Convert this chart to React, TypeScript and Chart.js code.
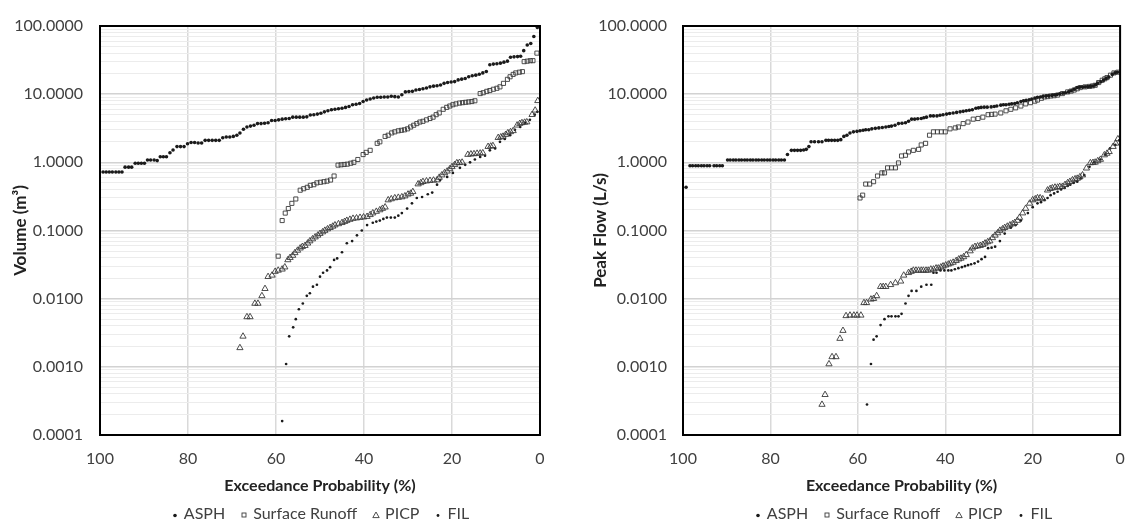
import React, { useEffect, useRef } from 'react';
import { Chart, registerables } from 'chart.js';

Chart.register(...registerables);

type Pt = [number, number];

// ---------- labels ----------
const SERIES_NAMES = ['ASPH', 'Surface Runoff', 'PICP', 'FIL'];
const X_TITLE = 'Exceedance Probability (%)';
const Y_TITLE_LEFT = 'Volume (m³)';
const Y_TITLE_RIGHT = 'Peak Flow (L/s)';
const X_TICKS = [0, 20, 40, 60, 80, 100];
const Y_DECADES = [0.0001, 0.001, 0.01, 0.1, 1, 10, 100];
const Y_MINOR_MULT = [2, 3, 4, 5, 6, 7, 8, 9];

// ---------- Volume chart data [exceedance %, value] ----------
const volASPH: Pt[] = [
  [99.3, 0.72], [98.6, 0.72], [97.9, 0.72], [97.2, 0.72], [96.4, 0.72], [95.7, 0.72], [95.0, 0.72],
  [94.3, 0.85], [93.5, 0.85], [92.8, 0.85],
  [92.0, 0.97], [91.3, 0.97], [90.6, 0.97], [89.9, 0.97],
  [89.2, 1.08], [88.5, 1.08], [87.7, 1.08], [87.0, 1.06],
  [86.3, 1.21], [85.6, 1.21], [84.9, 1.21],
  [84.1, 1.38], [83.4, 1.52], [82.5, 1.7], [81.7, 1.7], [80.9, 1.7], [80.1, 1.87], [79.3, 1.95], [78.5, 1.95],
  [77.7, 1.92], [76.9, 1.92], [76.1, 2.1], [75.3, 2.1], [74.5, 2.1], [73.7, 2.1], [72.9, 2.1], [72.1, 2.3],
  [71.3, 2.35], [70.5, 2.35], [69.7, 2.4], [68.9, 2.5], [68.2, 2.7], [67.4, 3.05], [66.6, 3.3], [65.8, 3.4],
  [65.0, 3.5], [64.2, 3.7], [63.4, 3.7], [62.6, 3.75], [61.8, 3.8], [61.0, 4.1], [60.2, 4.1], [59.4, 4.2],
  [58.6, 4.3], [57.8, 4.35], [57.0, 4.4], [56.2, 4.6], [55.4, 4.6], [54.6, 4.6], [53.8, 4.6], [53.0, 4.65],
  [52.2, 4.95], [51.4, 5.0], [50.6, 5.1], [49.8, 5.25], [49.0, 5.5], [48.2, 5.7], [47.4, 5.9], [46.6, 6.0],
  [45.8, 6.1], [45.0, 6.2], [44.2, 6.4], [43.4, 6.6], [42.6, 7.0], [41.8, 7.1], [41.0, 7.3], [40.2, 7.8],
  [39.4, 8.2], [38.6, 8.5], [37.8, 8.8], [37.0, 9.0], [36.2, 9.0], [35.4, 9.1], [34.6, 9.1], [33.8, 9.3],
  [33.0, 9.2], [32.2, 9.1], [31.4, 9.8], [30.6, 10.8], [29.8, 10.9], [29.0, 11.0], [28.2, 11.5], [27.4, 11.7],
  [26.6, 12.0], [25.8, 12.3], [25.0, 12.8], [24.2, 13.1], [23.4, 13.3], [22.6, 13.6], [21.8, 14.4], [21.0, 14.8],
  [20.2, 15.1], [19.4, 15.3], [18.6, 16.2], [17.8, 16.6], [17.0, 17.0], [16.2, 18.0], [15.4, 18.6], [14.6, 19.0],
  [13.8, 19.6], [13.0, 20.5], [12.2, 21.5], [11.4, 27.0], [10.6, 27.6], [9.8, 28.0], [9.0, 28.5], [8.2, 29.5],
  [7.4, 30.5], [6.7, 34.8], [5.9, 35.3], [5.1, 35.6], [4.4, 36], [3.7, 43.5], [2.9, 52.6], [2.1, 55.5],
  [1.4, 70], [0.6, 95],
];

const volRunoff: Pt[] = [
  [59.5, 0.042], [58.6, 0.14], [57.9, 0.18], [57.2, 0.21], [56.4, 0.25], [55.5, 0.29], [54.5, 0.39],
  [53.7, 0.41], [52.9, 0.43], [52.2, 0.46], [51.4, 0.47], [50.7, 0.5], [49.9, 0.51], [49.1, 0.52],
  [48.4, 0.53], [47.6, 0.55], [46.8, 0.63], [45.9, 0.91], [45.2, 0.92], [44.5, 0.93], [43.8, 0.94],
  [43.0, 0.97], [42.3, 1.0], [41.4, 1.1], [40.2, 1.3], [39.5, 1.4], [38.6, 1.5], [37.0, 1.9], [36.4, 2.0],
  [35.2, 2.4], [34.5, 2.5], [33.7, 2.7], [33.0, 2.8], [32.2, 2.9], [31.5, 2.95], [30.8, 3.0], [30.1, 3.1],
  [29.4, 3.3], [28.7, 3.5], [28.0, 3.7], [27.3, 3.9], [26.6, 4.0], [25.8, 4.2], [25.0, 4.4], [24.3, 4.6],
  [23.6, 5.0], [22.9, 5.3], [22.0, 6.0], [21.2, 6.4], [20.5, 6.7], [19.8, 7.0], [19.1, 7.2], [18.3, 7.4],
  [17.6, 7.5], [16.9, 7.6], [16.2, 7.7], [15.5, 7.8], [14.8, 8.0], [13.6, 10.2], [12.9, 10.5], [12.1, 11.0],
  [11.4, 11.3], [10.6, 11.8], [9.8, 12.2], [9.1, 12.8], [8.3, 14.4], [7.4, 16.5], [6.8, 18], [6.1, 19.5],
  [5.5, 20.5], [4.7, 21], [4.0, 21.4], [3.6, 30], [2.9, 30.5], [2.2, 31], [1.6, 31], [0.7, 40],
];

const volPICP: Pt[] = [
  [68.2, 0.0019], [67.5, 0.0028], [66.6, 0.0054], [65.9, 0.0054], [64.8, 0.0085], [64.1, 0.0085],
  [63.2, 0.011], [62.5, 0.014], [61.8, 0.021], [60.9, 0.022], [60.2, 0.025], [59.5, 0.026], [58.6, 0.027],
  [58.0, 0.029], [57.3, 0.037], [56.8, 0.04], [56.2, 0.043], [55.7, 0.047], [55.1, 0.051], [54.5, 0.055],
  [54.0, 0.058], [53.4, 0.06], [52.8, 0.065], [52.3, 0.07], [51.7, 0.075], [51.1, 0.08], [50.5, 0.085],
  [50.0, 0.09], [49.4, 0.095], [48.9, 0.1], [48.3, 0.105], [47.7, 0.11], [47.1, 0.115], [46.6, 0.12],
  [45.8, 0.125], [45.0, 0.13], [44.4, 0.135], [43.9, 0.14], [43.2, 0.145], [42.5, 0.15], [41.7, 0.152],
  [40.9, 0.155], [40.1, 0.157], [39.3, 0.16], [38.6, 0.17], [38.0, 0.18], [37.2, 0.19], [36.4, 0.2],
  [35.8, 0.21], [35.2, 0.22], [34.5, 0.28], [33.8, 0.29], [33.0, 0.3], [32.2, 0.305], [31.4, 0.31],
  [30.7, 0.32], [30.0, 0.34], [29.4, 0.35], [28.9, 0.37], [27.7, 0.48], [27.1, 0.5], [26.6, 0.52],
  [25.8, 0.53], [25.0, 0.54], [24.2, 0.545], [23.4, 0.55], [22.9, 0.6], [22.3, 0.65], [21.7, 0.7],
  [21.1, 0.74], [20.5, 0.8], [20.0, 0.86], [19.4, 0.92], [18.9, 0.98], [18.3, 0.99], [17.7, 1.0],
  [16.4, 1.3], [15.7, 1.32], [15.0, 1.33], [14.3, 1.35], [13.6, 1.36], [13.0, 1.37], [11.8, 1.7],
  [11.2, 1.72], [10.7, 1.75], [9.5, 2.3], [8.9, 2.35], [8.4, 2.4], [7.8, 2.55], [7.3, 2.7], [6.7, 2.8],
  [6.1, 2.9], [5.2, 3.5], [4.6, 3.7], [4.1, 3.8], [3.5, 3.85], [3.0, 3.9], [1.8, 5.0], [1.1, 5.8],
  [0.5, 8.0],
];

const volFIL: Pt[] = [
  [58.6, 0.00016], [57.7, 0.0011], [57.0, 0.0028], [56.1, 0.0038], [55.5, 0.005], [54.8, 0.007],
  [53.9, 0.0085], [53.0, 0.011], [52.3, 0.012], [51.6, 0.015], [50.7, 0.016], [50.0, 0.021], [49.3, 0.024],
  [48.4, 0.026], [47.7, 0.029], [46.8, 0.037], [46.1, 0.039], [45.0, 0.048], [43.9, 0.065], [42.7, 0.07],
  [41.6, 0.085], [40.5, 0.1], [39.3, 0.12], [38.0, 0.13], [37.2, 0.135], [36.4, 0.14], [35.6, 0.148],
  [34.8, 0.155], [33.9, 0.155], [33.0, 0.155], [32.2, 0.165], [31.4, 0.18], [30.2, 0.21], [29.1, 0.25],
  [28.0, 0.3], [26.8, 0.31], [25.5, 0.34], [24.5, 0.36], [23.4, 0.47], [22.7, 0.55], [21.1, 0.61],
  [19.8, 0.7], [18.2, 0.83], [17.0, 0.92], [15.9, 1.0], [14.8, 1.1], [13.6, 1.2], [12.5, 1.25],
  [11.4, 1.5], [10.2, 1.6], [9.1, 2.0], [8.0, 2.2], [6.8, 2.5], [5.7, 3.0], [4.5, 3.3], [3.4, 3.8],
  [2.3, 4.2], [1.2, 5.0], [0.6, 5.5],
];

// ---------- Peak flow chart data [exceedance %, value] ----------
const flowASPH: Pt[] = [
  [99.3, 0.43],
  [98.4, 0.89], [97.8, 0.89], [97.1, 0.89], [96.5, 0.89], [95.8, 0.89], [95.2, 0.89], [94.5, 0.89],
  [93.9, 0.89], [92.9, 0.89], [92.3, 0.89], [91.6, 0.89], [91.0, 0.89],
  [89.8, 1.08], [89.2, 1.08], [88.5, 1.08], [87.9, 1.08], [87.2, 1.08], [86.6, 1.08], [85.9, 1.08],
  [85.3, 1.08], [84.6, 1.08], [84.0, 1.08], [83.3, 1.08], [82.7, 1.08], [82.0, 1.08], [81.4, 1.08],
  [80.7, 1.08], [80.1, 1.08], [79.4, 1.08], [78.8, 1.08], [78.1, 1.08], [77.5, 1.08], [76.8, 1.08],
  [76.1, 1.3], [75.2, 1.5], [74.5, 1.5], [73.8, 1.5], [73.1, 1.5], [72.4, 1.52], [71.8, 1.55], [71.2, 1.7],
  [70.7, 2.0], [69.9, 2.0], [69.0, 2.0], [68.2, 2.0], [67.3, 2.1], [66.7, 2.1], [66.0, 2.1], [65.3, 2.1],
  [64.6, 2.1], [63.9, 2.15], [63.2, 2.4], [62.5, 2.5], [61.8, 2.7], [61.0, 2.8], [60.2, 2.85], [59.5, 2.9],
  [58.8, 2.95], [58.2, 3.0], [57.5, 3.0], [56.8, 3.1], [56.0, 3.15], [55.2, 3.2], [54.4, 3.25], [53.6, 3.3],
  [52.9, 3.35], [52.3, 3.4], [51.5, 3.5], [50.7, 3.7], [49.9, 3.75], [49.1, 3.8], [48.4, 4.0], [47.7, 4.3],
  [47.0, 4.3], [46.3, 4.35], [45.5, 4.4], [44.9, 4.5], [44.3, 4.6], [43.4, 4.8], [42.7, 4.8], [41.9, 4.8],
  [41.2, 4.9], [40.5, 5.0], [39.7, 5.1], [39.0, 5.2], [38.2, 5.3], [37.4, 5.4], [36.6, 5.5], [35.9, 5.6],
  [35.2, 5.7], [34.5, 5.8], [33.8, 5.9], [33.0, 6.2], [32.4, 6.3], [31.8, 6.4], [31.1, 6.45], [30.4, 6.45],
  [29.5, 6.5], [28.8, 6.6], [28.2, 6.7], [27.3, 6.9], [26.7, 7.0], [26.1, 7.0], [25.4, 7.1], [24.8, 7.2],
  [24.1, 7.3], [23.5, 7.5], [22.7, 7.8], [22.1, 8.0], [21.5, 8.1], [20.8, 8.3], [20.2, 8.5], [19.5, 8.8],
  [18.9, 9.0], [18.2, 9.1], [17.6, 9.3], [16.9, 9.4], [16.3, 9.5], [15.6, 9.6], [15.0, 9.7], [14.4, 9.9],
  [13.8, 10.1], [13.1, 10.3], [12.5, 10.5], [11.8, 10.8], [11.2, 11.2], [10.5, 11.8], [9.8, 12.5],
  [9.2, 12.6], [8.6, 12.7], [8.0, 12.8], [7.4, 12.9], [6.8, 13.0], [6.2, 13.2], [5.6, 13.7], [5.1, 14.5],
  [4.4, 15.2], [3.8, 16.0], [3.2, 17.0], [2.6, 17.8], [1.8, 19.5], [1.2, 20.5], [0.6, 21],
];

const flowRunoff: Pt[] = [
  [59.5, 0.3], [58.9, 0.33], [58.2, 0.48], [57.3, 0.48], [56.4, 0.52], [55.5, 0.63], [54.5, 0.7],
  [53.9, 0.7], [53.2, 0.83], [52.3, 0.83], [51.4, 0.83], [50.7, 0.98], [50.0, 1.24], [49.1, 1.27],
  [48.4, 1.42], [47.3, 1.5], [46.1, 1.55], [45.5, 1.8], [44.5, 1.9], [43.6, 2.5], [42.7, 2.8], [41.8, 2.8],
  [40.9, 2.8], [40.0, 2.8], [38.9, 3.1], [37.7, 3.2], [37.0, 3.3], [35.9, 3.7], [34.8, 3.9], [33.6, 4.3],
  [32.5, 4.4], [31.4, 4.6], [30.2, 5.0], [29.4, 5.05], [28.6, 5.1], [27.3, 5.3], [26.1, 5.7], [25.0, 6.0],
  [23.9, 6.3], [22.7, 6.7], [21.6, 7.2], [20.5, 7.5], [19.5, 7.9], [18.9, 8.2], [18.0, 8.7], [17.3, 9.1],
  [16.6, 9.2], [15.9, 9.4], [15.1, 9.5], [14.3, 9.7], [13.2, 10.2], [12.0, 10.8], [11.2, 11.1], [10.5, 11.5],
  [9.8, 12.0], [9.1, 12.5], [8.0, 12.8], [7.0, 13.0], [6.3, 13.2], [5.7, 13.5], [4.9, 14.8], [4.1, 16.0],
  [3.5, 16.8], [3.0, 17.5], [2.2, 19.0], [1.4, 20.5], [0.5, 21],
];

const flowPICP: Pt[] = [
  [68.2, 0.00028], [67.5, 0.00039], [66.6, 0.0011], [65.9, 0.0014], [65.0, 0.0014], [64.1, 0.0026],
  [63.4, 0.0034], [62.7, 0.0056], [61.8, 0.0057], [60.9, 0.0057], [60.2, 0.0057], [59.3, 0.0057],
  [58.6, 0.0087], [58.0, 0.0087], [57.0, 0.0098], [56.4, 0.01], [55.7, 0.011], [54.8, 0.015], [54.2, 0.015],
  [53.6, 0.015], [52.5, 0.016], [51.4, 0.017], [50.2, 0.018], [49.5, 0.022], [48.4, 0.024], [47.8, 0.025],
  [47.3, 0.026], [46.7, 0.026], [46.1, 0.026], [45.5, 0.026], [45.0, 0.026], [44.4, 0.026], [43.9, 0.026],
  [43.3, 0.027], [42.7, 0.027], [42.1, 0.028], [41.6, 0.028], [41.0, 0.029], [40.5, 0.03], [39.9, 0.031],
  [39.3, 0.032], [38.8, 0.033], [38.2, 0.034], [37.5, 0.036], [36.9, 0.038], [36.4, 0.039], [35.8, 0.041],
  [35.2, 0.044], [34.3, 0.05], [33.8, 0.055], [33.2, 0.058], [32.6, 0.059], [32.0, 0.06], [31.4, 0.062],
  [30.9, 0.065], [30.3, 0.068], [29.8, 0.07], [29.2, 0.078], [28.6, 0.085], [28.0, 0.092], [27.5, 0.1],
  [26.9, 0.105], [26.4, 0.11], [25.8, 0.115], [25.2, 0.12], [24.6, 0.125], [24.1, 0.13], [23.5, 0.14],
  [23.0, 0.155], [22.3, 0.18], [21.6, 0.21], [20.7, 0.25], [20.0, 0.28], [19.4, 0.29], [18.9, 0.3],
  [18.3, 0.3], [17.7, 0.29], [16.6, 0.39], [16.0, 0.41], [15.5, 0.42], [14.9, 0.43], [14.3, 0.43],
  [13.8, 0.44], [13.2, 0.44], [12.6, 0.47], [12.0, 0.5], [11.5, 0.52], [10.9, 0.55], [10.3, 0.57],
  [9.8, 0.58], [9.2, 0.61], [8.6, 0.65], [7.7, 0.82], [6.8, 0.98], [6.2, 0.99], [5.7, 1.0], [5.1, 1.05],
  [4.5, 1.1], [3.6, 1.28], [3.0, 1.35], [2.5, 1.43], [1.6, 1.7], [1.0, 1.9], [0.5, 2.2],
];

const flowFIL: Pt[] = [
  [57.9, 0.00028], [57.0, 0.0011], [56.4, 0.0025], [55.7, 0.0028], [54.8, 0.0041], [53.9, 0.005],
  [53.0, 0.0055], [52.3, 0.0055], [51.4, 0.0055], [50.7, 0.0055], [50.0, 0.006], [49.1, 0.0085],
  [48.4, 0.011], [47.7, 0.013], [46.6, 0.013], [45.5, 0.015], [44.3, 0.016], [43.2, 0.016], [42.7, 0.024],
  [42.0, 0.024], [41.1, 0.026], [40.2, 0.026], [39.3, 0.026], [38.6, 0.026], [37.8, 0.027], [37.0, 0.028],
  [36.2, 0.029], [35.5, 0.03], [34.8, 0.031], [34.1, 0.032], [33.3, 0.033], [32.5, 0.035], [31.7, 0.038],
  [30.9, 0.041], [30.2, 0.055], [29.4, 0.056], [28.6, 0.058], [27.5, 0.07], [26.4, 0.09], [25.0, 0.11],
  [23.9, 0.12], [22.7, 0.14], [21.1, 0.18], [20.0, 0.22], [18.9, 0.25], [18.1, 0.26], [17.3, 0.28],
  [16.6, 0.3], [15.9, 0.33], [15.1, 0.35], [14.3, 0.37], [13.5, 0.4], [12.7, 0.42], [12.0, 0.45],
  [11.4, 0.47], [10.6, 0.5], [9.8, 0.52], [9.0, 0.58], [8.2, 0.65], [7.0, 0.86], [5.9, 1.0], [4.5, 1.1],
  [3.4, 1.3], [2.3, 1.6], [1.1, 1.8], [0.2, 2.1],
];

// ---------- styling ----------
const FONT = 'Lato, "Open Sans", "Liberation Sans", sans-serif';
const TEXT = '#404040';

type PanelProps = {
  canvasLeft: number;
  canvasWidth: number;
  plotLeft: number;
  plotRight: number;
  yTitle: string;
  yTitlePad: number;
  yTickPad: number;
  data: Pt[][];
};

const yTickValues: number[] = [];
Y_DECADES.forEach((d, i) => {
  yTickValues.push(d);
  if (i < Y_DECADES.length - 1) Y_MINOR_MULT.forEach((m) => yTickValues.push(+(d * m).toPrecision(3)));
});

const isDecade = (v: number) => {
  const l = Math.log10(v);
  return Math.abs(l - Math.round(l)) < 1e-9;
};

const framePlugin = {
  id: 'frame',
  afterDraw(chart: any) {
    const { ctx, chartArea: a } = chart;
    ctx.save();
    ctx.strokeStyle = '#000';
    ctx.lineWidth = 2;
    ctx.strokeRect(a.left, a.top, a.right - a.left, a.bottom - a.top);
    ctx.restore();
  },
};

const PLOT_TOP = 26;
const PLOT_BOTTOM = 435;
const H = 520;

function Panel(p: PanelProps) {
  const ref = useRef<HTMLCanvasElement | null>(null);
  useEffect(() => {
    if (!ref.current) return;
    const styles = [
      { pointStyle: 'circle', radius: 1.8, bg: '#1a1a1a', border: '#1a1a1a', bw: 0 },
      { pointStyle: 'rect', radius: 2.9, bg: 'rgba(255,255,255,0)', border: '#3a3a3a', bw: 0.9 },
      { pointStyle: 'triangle', radius: 3.6, bg: 'rgba(255,255,255,0)', border: '#3a3a3a', bw: 0.9 },
      { pointStyle: 'circle', radius: 1.35, bg: '#1a1a1a', border: '#1a1a1a', bw: 0 },
    ];
    const chart = new Chart(ref.current, {
      type: 'scatter',
      data: {
        datasets: p.data.map((d, i) => ({
          label: SERIES_NAMES[i],
          data: d.map(([x, y]) => ({ x, y })),
          pointStyle: styles[i].pointStyle as any,
          pointRadius: styles[i].radius,
          pointBackgroundColor: styles[i].bg,
          pointBorderColor: styles[i].border,
          pointBorderWidth: styles[i].bw,
          showLine: false,
        })),
      },
      options: {
        responsive: false,
        animation: false,
        events: [],
        layout: {
          padding: { top: PLOT_TOP, right: p.canvasWidth - p.plotRight, bottom: 0, left: 0 },
        },
        plugins: { legend: { display: false }, tooltip: { enabled: false } },
        scales: {
          x: {
            type: 'linear',
            reverse: true,
            min: 0,
            max: 100,
            afterBuildTicks: (s: any) => {
              s.ticks = X_TICKS.map((v) => ({ value: v }));
            },
            afterFit: (s: any) => {
              s.height = H - PLOT_BOTTOM;
              s.paddingLeft = 0;
              s.paddingRight = 0;
            },
            border: { display: false },
            grid: { color: '#d9d9d9', lineWidth: 1.5, drawTicks: false },
            ticks: {
              padding: 14,
              color: TEXT,
              font: { family: FONT, size: 16 },
              maxRotation: 0,
              autoSkip: false,
              callback: (v: any) => String(v),
            },
            title: {
              display: true,
              text: X_TITLE,
              color: '#222',
              font: { family: FONT, size: 16, weight: 'bold' },
              padding: { top: 0, bottom: 25 },
            },
          },
          y: {
            type: 'logarithmic',
            min: 0.0001,
            max: 100,
            afterBuildTicks: (s: any) => {
              s.ticks = yTickValues.map((v) => ({ value: v, major: isDecade(v) }));
            },
            afterFit: (s: any) => {
              s.width = p.plotLeft;
              s.paddingTop = 0;
              s.paddingBottom = 0;
            },
            border: { display: false },
            grid: {
              drawTicks: false,
              color: (c: any) => (c.tick && isDecade(c.tick.value) ? '#d2d2d2' : '#ececec'),
              lineWidth: (c: any) => (c.tick && isDecade(c.tick.value) ? 1.6 : 1),
            },
            ticks: {
              padding: p.yTickPad,
              color: TEXT,
              autoSkip: false,
              font: { family: FONT, size: 16 },
              callback: (v: any) => (isDecade(Number(v)) ? Number(v).toFixed(4) : ''),
            },
            title: {
              display: true,
              text: p.yTitle,
              color: '#222',
              font: { family: FONT, size: 17, weight: 'bold' },
              padding: { top: p.yTitlePad, bottom: 0 },
            },
          },
        },
      },
      plugins: [framePlugin],
    } as any);
    return () => chart.destroy();
  }, []);

  const plotW = p.plotRight - p.plotLeft;
  return (
    <div style={{ position: 'absolute', left: p.canvasLeft, top: 0, width: p.canvasWidth, height: H }}>
      <canvas ref={ref} width={p.canvasWidth} height={H} style={{ display: 'block' }} />
      <div
        style={{
          position: 'absolute',
          left: p.plotLeft - 20,
          width: plotW + 40,
          top: 503,
          textAlign: 'center',
          fontFamily: FONT,
          fontSize: 16,
          color: TEXT,
          whiteSpace: 'nowrap',
          lineHeight: '20px',
        }}
      >
        {SERIES_NAMES.map((n, i) => (
          <span key={n} style={{ marginLeft: i === 0 ? 0 : 15 }}>
            <Marker kind={i} />
            <span style={{ marginLeft: 5 }}>{n}</span>
          </span>
        ))}
      </div>
    </div>
  );
}

function Marker({ kind }: { kind: number }) {
  const common = { width: 8, height: 10, style: { verticalAlign: 'middle' as const } };
  if (kind === 1)
    return (
      <svg {...common}>
        <rect x="2" y="3" width="4" height="4" fill="none" stroke="#3a3a3a" strokeWidth="0.9" />
      </svg>
    );
  if (kind === 2)
    return (
      <svg {...common}>
        <polygon points="4,2 7.2,7.6 0.8,7.6" fill="none" stroke="#3a3a3a" strokeWidth="0.9" />
      </svg>
    );
  return (
    <svg {...common}>
      <circle cx="4" cy="5.5" r={kind === 0 ? 1.8 : 1.4} fill="#1a1a1a" />
    </svg>
  );
}

export default function App() {
  return (
    <div
      style={{
        position: 'fixed',
        left: 0,
        top: 0,
        width: 1125,
        height: H,
        background: '#fff',
        overflow: 'hidden',
      }}
    >
      <Panel
        canvasLeft={0}
        canvasWidth={560}
        plotLeft={100}
        plotRight={540}
        yTitle={Y_TITLE_LEFT}
        yTitlePad={10}
        yTickPad={17}
        data={[volASPH, volRunoff, volPICP, volFIL]}
      />
      <Panel
        canvasLeft={560}
        canvasWidth={565}
        plotLeft={123}
        plotRight={563}
        yTitle={Y_TITLE_RIGHT}
        yTitlePad={30}
        yTickPad={16}
        data={[flowASPH, flowRunoff, flowPICP, flowFIL]}
      />
    </div>
  );
}
